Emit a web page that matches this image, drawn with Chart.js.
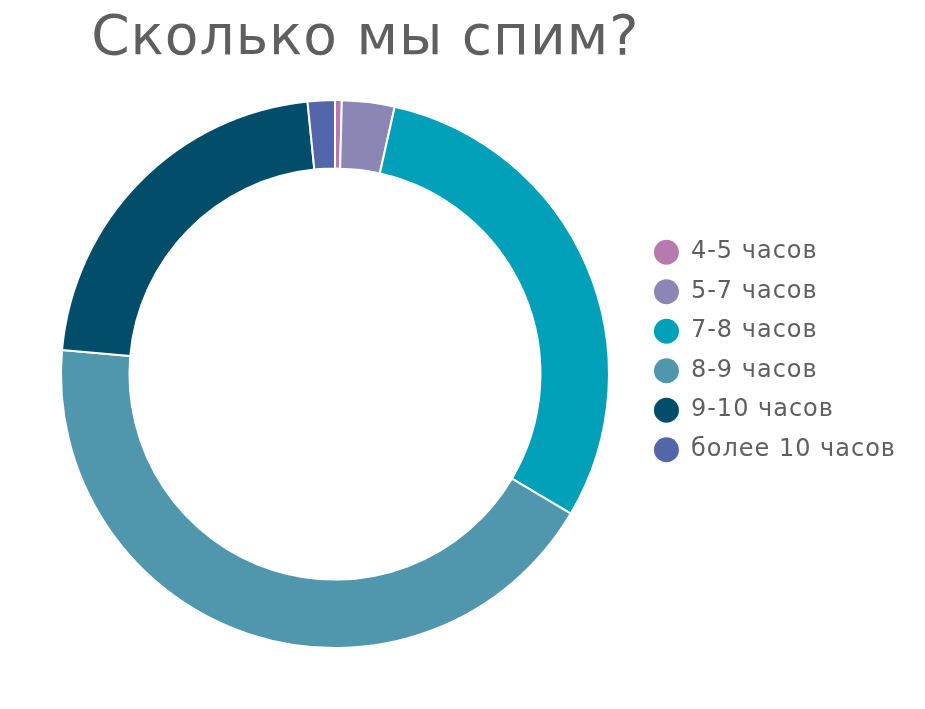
<!DOCTYPE html>
<html lang="ru">
<head>
<meta charset="utf-8">
<title>Сколько мы спим?</title>
<script src="https://cdn.jsdelivr.net/npm/chart.js@4.4.1/dist/chart.umd.min.js"></script>
<style>
  html, body { margin: 0; background: #fff; }
  #wrap { width: 925px; height: 709px; }
</style>
</head>
<body>
<div id="wrap"><canvas id="sleep"></canvas></div>
<script>
const labels = ['4-5 часов', '5-7 часов', '7-8 часов', '8-9 часов', '9-10 часов', 'более 10 часов'];
const shares = [0.4, 3.1, 30.0, 42.9, 22.0, 1.6];
const colors = ['#b77aae', '#8c86b4', '#00a0b8', '#5097ad', '#024e6a', '#5266a9'];

const textColor = '#5f5f5f';

// a little letter spacing on title and legend text (set before measuring and before drawing)
const spacing = {
  id: 'spacing',
  beforeLayout(chart) { chart.ctx.letterSpacing = '1px'; },
  beforeDraw(chart) { chart.ctx.letterSpacing = '1px'; }
};

new Chart(document.getElementById('sleep'), {
  type: 'doughnut',
  data: {
    labels: labels,
    datasets: [{
      data: shares,
      backgroundColor: colors,
      borderColor: '#fff',
      borderWidth: 2,
      hoverOffset: 0
    }]
  },
  options: {
    responsive: true,
    maintainAspectRatio: false,
    animation: false,
    radius: 274,
    cutout: '75%',
    layout: {
      padding: { left: 30.5, right: 19, top: 3, bottom: 10 }
    },
    plugins: {
      title: {
        display: true,
        fullSize: false,
        align: 'end',
        text: 'Сколько мы спим?',
        color: textColor,
        font: { family: 'DejaVu Sans', size: 55, weight: 'normal', lineHeight: 0.33 },
        padding: { top: 28, bottom: 0 }
      },
      legend: {
        position: 'right',
        labels: {
          boxWidth: 25,
          boxHeight: 25,
          padding: 14.5,
          font: { family: 'DejaVu Sans', size: 24 },
          color: textColor,
          generateLabels(chart) {
            const ds = chart.data.datasets[0];
            return chart.data.labels.map((text, i) => ({
              text: text,
              fillStyle: ds.backgroundColor[i],
              strokeStyle: 'rgba(0,0,0,0)',
              lineWidth: 0,
              borderRadius: 12.5,
              fontColor: textColor,
              hidden: !chart.getDataVisibility(i),
              index: i
            }));
          }
        }
      },
      tooltip: { enabled: false }
    }
  },
  plugins: [spacing]
});
</script>
</body>
</html>
